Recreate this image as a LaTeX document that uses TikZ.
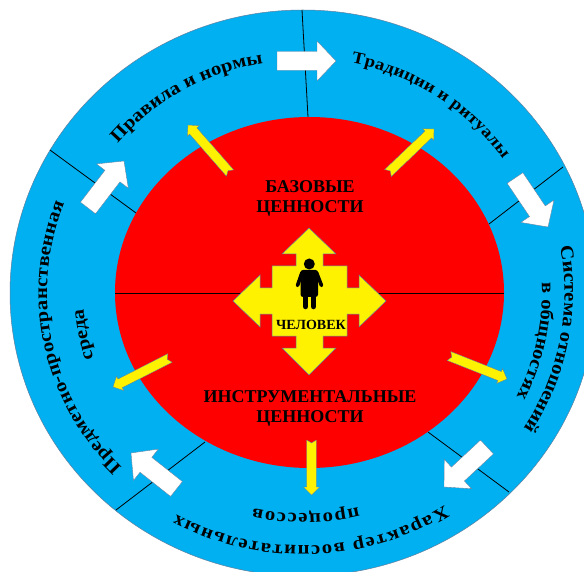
\documentclass[tikz,border=0pt]{standalone}
\usepackage{fontspec}
\setmainfont{Liberation Serif}
\newfontfamily\ringfont[BoldFont={Liberation Serif Bold},BoldFeatures={FakeStretch=1.12}]{Liberation Serif}
\usetikzlibrary{calc,decorations.text}
\definecolor{ringblue}{HTML}{00B0F0}
\definecolor{edgegrey}{HTML}{5F7F9F}
\newcommand\lab{\ringfont\bfseries\fontsize{18.5}{20}\selectfont}
\newcommand\labsmall{\ringfont\bfseries\fontsize{16.8}{20}\selectfont}
\newcommand\ArcLabel[6][\lab]{%
  \path[decorate,decoration={text along path,text={|#1|#6{ }},text align={fit to path}}]
    ($(c)+(#4:#2pt and #3pt)$) arc[start angle=#4,end angle=#5,x radius=#2pt,y radius=#3pt];}
% tail, tip, half shaft, half head, head length, notch, style
\newcommand\BlockArrow[7]{%
  \coordinate (T) at (#1); \coordinate (P) at (#2);
  \coordinate (B) at ($(P)!#5pt!(T)$);
  \coordinate (N) at ($(T)!#6pt!(P)$);
  \path[#7] ($(T)!#3pt!90:(P)$) -- ($(B)!#3pt!90:(P)$) -- ($(B)!#4pt!90:(P)$) -- (P)
    -- ($(B)!#4pt!-90:(P)$) -- ($(B)!#3pt!-90:(P)$) -- ($(T)!#3pt!-90:(P)$) -- (N) -- cycle;}
\tikzset{
  x=1pt,y=1pt,
  whitearrow/.style={fill=white,draw=edgegrey,line width=.35pt},
  yellowarrow/.style={fill=yellow,draw=edgegrey,line width=.35pt},
  divider/.style={draw=black,line width=.8pt},
  head/.style={font=\bfseries\fontsize{18}{20}\selectfont,inner sep=0pt}
}
\begin{document}
\begin{tikzpicture}
\useasboundingbox (0,0) rectangle (584,-572);
\clip (0,0) rectangle (584,-572);
\coordinate (c) at (303,-293);
\coordinate (r) at (309.5,-292.5);
\fill[white] (0,0) rectangle (584,-572);
\draw[fill=ringblue,draw=edgegrey,line width=.5pt] (c) ellipse [x radius=293pt,y radius=283pt];
\draw[divider] (302,-10) -- (308,-117);
\draw[divider] (50,-150) -- (136,-213);
\draw[divider] (563,-167) -- (489,-224);
\draw[divider] (509,-492) -- (428,-432);
\draw[divider] (116,-510) -- (205,-442);
\fill[red] (r) ellipse [x radius=194.5pt,y radius=175.5pt];
\draw[divider,line width=.7pt] (115,-293) -- (504,-293);
% white arrows
\BlockArrow{277,-61}{336,-61}{9.5}{20}{19}{0}{whitearrow}
\BlockArrow{515,-178}{548,-227}{9.5}{20}{19}{0}{whitearrow}
\BlockArrow{487,-447}{444,-487}{9.5}{20}{19}{0}{whitearrow}
\BlockArrow{176.5,-489}{131,-453}{9.5}{20}{19}{0}{whitearrow}
\BlockArrow{88,-208}{124,-161}{9.5}{20}{19}{0}{whitearrow}
% yellow arrows
\BlockArrow{230,-173}{188,-125}{4.8}{8}{8}{3}{yellowarrow}
\BlockArrow{388,-173}{434,-129}{4.8}{8}{8}{3}{yellowarrow}
\BlockArrow{449,-356}{507,-379}{4.8}{8}{8}{3}{yellowarrow}
\BlockArrow{311.5,-440}{311.5,-495}{4.8}{8}{8}{3}{yellowarrow}
\BlockArrow{170,-358}{113,-387}{4.8}{8}{8}{3}{yellowarrow}
% central cross
\draw[fill=yellow,draw=edgegrey,line width=.5pt]
  (309,-228) -- (336,-254) -- (323,-254) -- (323,-266) -- (347,-266) -- (347,-288)
  -- (359,-288) -- (359,-275) -- (386,-301) -- (359,-327) -- (359,-314) -- (347,-314)
  -- (347,-336) -- (323,-336) -- (323,-348) -- (336,-348) -- (309,-375) -- (282,-348)
  -- (296,-348) -- (296,-336) -- (272,-336) -- (272,-314) -- (260,-314) -- (260,-327)
  -- (233,-301) -- (260,-275) -- (260,-288) -- (272,-288) -- (272,-266) -- (296,-266)
  -- (296,-254) -- (282,-254) -- cycle;
% person
\fill[black] (309.3,-264) circle (5.5pt);
\fill[black,rounded corners=2.5pt] (300.5,-270) rectangle (318,-297);
\draw[black,line width=3.6pt,line cap=round] (302,-272.5) -- (297.5,-285.5);
\draw[black,line width=3.6pt,line cap=round] (316.5,-272.5) -- (321.5,-285.5);
\draw[black,line width=5.6pt,line cap=round] (305.5,-292) -- (305.5,-306.5);
\draw[black,line width=5.6pt,line cap=round] (313.5,-292) -- (313.5,-306.5);
% centre texts
\node[head] (baz) at (310,-187) {БАЗОВЫЕ};
\node[head] (cen1) at (310,-208) {ЦЕННОСТИ};
\node[font=\bfseries\fontsize{14}{15}\selectfont,inner sep=0pt] (man) at (311,-325) {ЧЕЛОВЕК};
\node[head] (ins) at (310,-397) {ИНСТРУМЕНТАЛЬНЫЕ};
\node[head] (cen2) at (310,-418) {ЦЕННОСТИ};
% ring texts
\ArcLabel{242}{233}{140}{101}{Правила и нормы}
\ArcLabel[\labsmall]{243}{235}{78.5}{33.5}{Традиции и ритуалы}
\ArcLabel{256}{247}{225}{157.5}{Предметно-пространственная}
\ArcLabel{220}{212}{198}{184.5}{среда}
\ArcLabel{261.5}{252.7}{10.5}{-33.3}{Система отношений}
\ArcLabel{239}{231}{2.5}{-27.2}{в общностях}
\ArcLabel{262}{253}{-57.3}{-120.3}{Характер воспитательных}
\ArcLabel{229}{221}{-76}{-104.2}{процессов}
\end{tikzpicture}
\end{document}
